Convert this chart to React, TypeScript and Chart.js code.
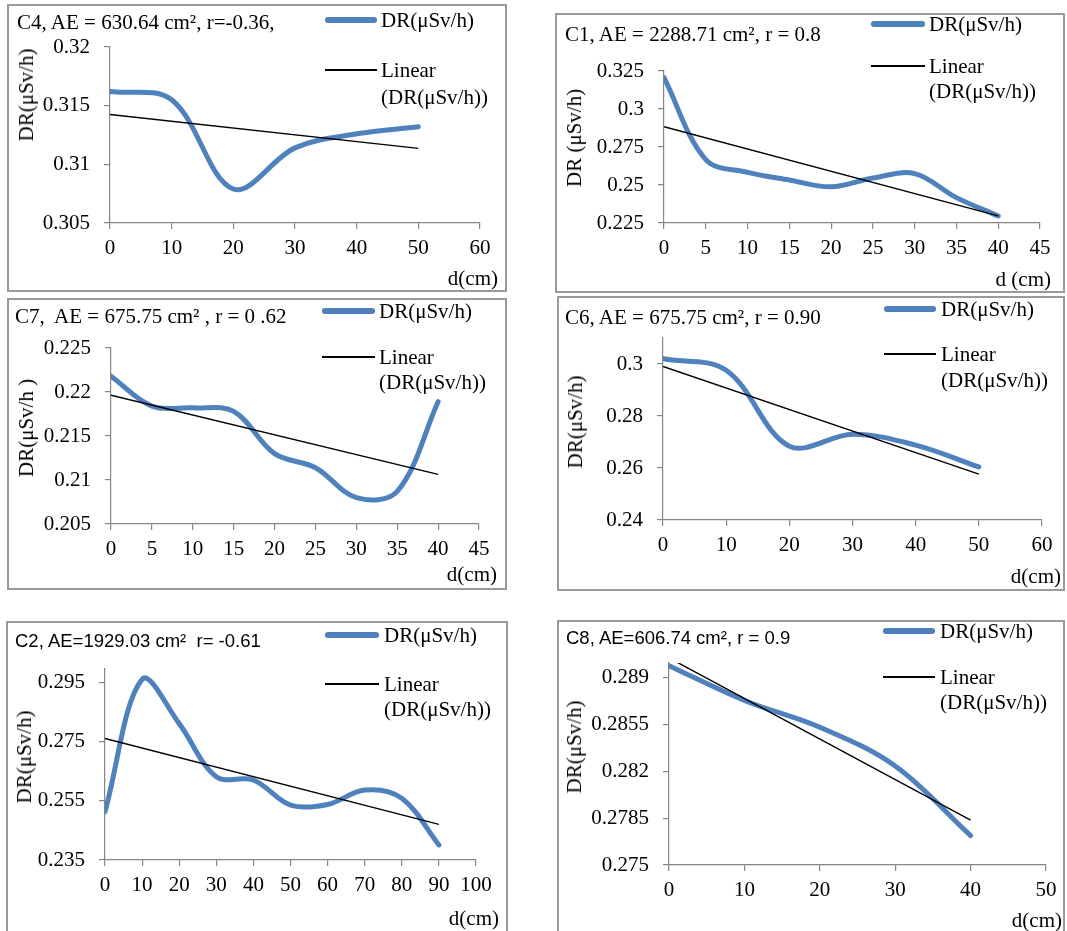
import React, { useEffect, useRef } from "react";
import { Chart, registerables } from "chart.js";

Chart.register(...registerables);

// ---------- data ----------
const c4Distance = [0, 10, 20, 30, 40, 50];
const c4Dose = [0.3162, 0.3155, 0.3079, 0.3114, 0.3126, 0.3132];
const c4XTicks = [0, 10, 20, 30, 40, 50, 60];
const c4YTicks = [0.305, 0.31, 0.315, 0.32];

const c1Distance = [0, 5, 10, 15, 20, 25, 30, 35, 40];
const c1Dose = [0.3206, 0.2667, 0.2583, 0.2533, 0.2488, 0.2546, 0.2575, 0.2417, 0.2296];
const c1XTicks = [0, 5, 10, 15, 20, 25, 30, 35, 40, 45];
const c1YTicks = [0.225, 0.25, 0.275, 0.3, 0.325];

const c7Distance = [0, 5, 10, 15, 20, 25, 30, 35, 40];
const c7Dose = [0.2218, 0.2184, 0.2182, 0.2178, 0.213, 0.2114, 0.208, 0.2087, 0.2189];
const c7XTicks = [0, 5, 10, 15, 20, 25, 30, 35, 40, 45];
const c7YTicks = [0.205, 0.21, 0.215, 0.22, 0.225];

const c6Distance = [0, 10, 20, 30, 40, 50];
const c6Dose = [0.302, 0.2976, 0.2684, 0.273, 0.2688, 0.2604];
const c6XTicks = [0, 10, 20, 30, 40, 50, 60];
const c6YTicks = [0.24, 0.26, 0.28, 0.3];

const c2Distance = [0, 10, 20, 30, 40, 50, 60, 70, 80, 90];
const c2Dose = [0.2514, 0.2962, 0.2812, 0.2632, 0.2621, 0.2536, 0.2538, 0.2587, 0.2559, 0.2401];
const c2XTicks = [0, 10, 20, 30, 40, 50, 60, 70, 80, 90, 100];
const c2YTicks = [0.235, 0.255, 0.275, 0.295];

const c8Distance = [0, 10, 20, 30, 40];
const c8Dose = [0.2899, 0.2873, 0.2853, 0.2824, 0.2772];
const c8XTicks = [0, 10, 20, 30, 40, 50];
const c8YTicks = [0.275, 0.2785, 0.282, 0.2855, 0.289];

const seriesName = "DR(μSv/h)";
const trendName1 = "Linear";
const trendName2 = "(DR(μSv/h))";

// ---------- layout ----------
const SERIF = "'Liberation Serif', 'Times New Roman', serif";
const SANS = "'Liberation Sans', Arial, sans-serif";
const BLUE = "#4F81BD";
const AXIS = "#868686";

type Rect = { l: number; t: number; r: number; b: number };
type PanelCfg = {
  title: string;
  titleSans: boolean;
  titlePos: [number, number];
  yTitle: string;
  yTitlePos: [number, number];
  xTitle: string;
  xTitlePos: [number, number]; // right edge, center y
  legend: { x1: number; x2: number; tx: number; y1: number; y2: number; y3: number };
  box: Rect;
  plot: Rect;
  xs: number[];
  ys: number[];
  xTicks: number[];
  yTicks: number[];
  xMax: number;
  yMin: number;
  yMax: number;
};

const panels: PanelCfg[] = [
  {
    title: "C4, AE = 630.64 cm², r=-0.36,",
    titleSans: false,
    titlePos: [17, 22],
    yTitle: "DR(μSv/h)",
    yTitlePos: [26, 95],
    xTitle: "d(cm)",
    xTitlePos: [498, 278],
    legend: { x1: 325, x2: 377, tx: 381, y1: 20, y2: 70, y3: 97 },
    box: { l: 7, t: 4, r: 507, b: 292 },
    plot: { l: 110, t: 47, r: 480, b: 223 },
    xs: c4Distance,
    ys: c4Dose,
    xTicks: c4XTicks,
    yTicks: c4YTicks,
    xMax: 60,
    yMin: 0.305,
    yMax: 0.32,
  },
  {
    title: "C1, AE = 2288.71 cm², r = 0.8",
    titleSans: false,
    titlePos: [565, 34],
    yTitle: "DR (μSv/h)",
    yTitlePos: [574, 138],
    xTitle: "d (cm)",
    xTitlePos: [1051, 279],
    legend: { x1: 871, x2: 925, tx: 929, y1: 24, y2: 66, y3: 91 },
    box: { l: 555, t: 13, r: 1065, b: 293 },
    plot: { l: 664, t: 71, r: 1040, b: 223 },
    xs: c1Distance,
    ys: c1Dose,
    xTicks: c1XTicks,
    yTicks: c1YTicks,
    xMax: 45,
    yMin: 0.225,
    yMax: 0.325,
  },
  {
    title: "C7,  AE = 675.75 cm² , r = 0 .62",
    titleSans: false,
    titlePos: [15, 316],
    yTitle: "DR(μSv/h )",
    yTitlePos: [26, 428],
    xTitle: "d(cm)",
    xTitlePos: [497, 574],
    legend: { x1: 322, x2: 375, tx: 379, y1: 311, y2: 357, y3: 382 },
    box: { l: 7, t: 298, r: 507, b: 590 },
    plot: { l: 111, t: 348, r: 479, b: 524 },
    xs: c7Distance,
    ys: c7Dose,
    xTicks: c7XTicks,
    yTicks: c7YTicks,
    xMax: 45,
    yMin: 0.205,
    yMax: 0.225,
  },
  {
    title: "C6, AE = 675.75 cm², r = 0.90",
    titleSans: false,
    titlePos: [565, 317],
    yTitle: "DR(μSv/h)",
    yTitlePos: [575, 422],
    xTitle: "d(cm)",
    xTitlePos: [1061, 576],
    legend: { x1: 884, x2: 936, tx: 941, y1: 309, y2: 354, y3: 380 },
    box: { l: 557, t: 296, r: 1065, b: 591 },
    plot: { l: 663, t: 338, r: 1042, b: 520 },
    xs: c6Distance,
    ys: c6Dose,
    xTicks: c6XTicks,
    yTicks: c6YTicks,
    xMax: 60,
    yMin: 0.24,
    yMax: 0.31,
  },
  {
    title: "C2, AE=1929.03 cm²  r= -0.61",
    titleSans: true,
    titlePos: [15, 641],
    yTitle: "DR(μSv/h)",
    yTitlePos: [24, 757],
    xTitle: "d(cm)",
    xTitlePos: [499, 918],
    legend: { x1: 325, x2: 379, tx: 384, y1: 635, y2: 684, y3: 709 },
    box: { l: 6, t: 621, r: 508, b: 945 },
    plot: { l: 105, t: 669, r: 476, b: 860 },
    xs: c2Distance,
    ys: c2Dose,
    xTicks: c2XTicks,
    yTicks: c2YTicks,
    xMax: 100,
    yMin: 0.235,
    yMax: 0.2997,
  },
  {
    title: "C8, AE=606.74 cm², r = 0.9",
    titleSans: true,
    titlePos: [566, 638],
    yTitle: "DR(μSv/h)",
    yTitlePos: [574, 747],
    xTitle: "d(cm)",
    xTitlePos: [1062, 920],
    legend: { x1: 883, x2: 935, tx: 940, y1: 631, y2: 677, y3: 702 },
    box: { l: 557, t: 620, r: 1065, b: 945 },
    plot: { l: 669, t: 663, r: 1046, b: 865 },
    xs: c8Distance,
    ys: c8Dose,
    xTicks: c8XTicks,
    yTicks: c8YTicks,
    xMax: 50,
    yMin: 0.275,
    yMax: 0.2901,
  },
];

function linearFit(xs: number[], ys: number[]) {
  const n = xs.length;
  const mx = xs.reduce((a, b) => a + b, 0) / n;
  const my = ys.reduce((a, b) => a + b, 0) / n;
  let sxy = 0;
  let sxx = 0;
  for (let i = 0; i < n; i++) {
    sxy += (xs[i] - mx) * (ys[i] - my);
    sxx += (xs[i] - mx) * (xs[i] - mx);
  }
  const slope = sxy / sxx;
  const intercept = my - slope * mx;
  return (x: number) => intercept + slope * x;
}

const WY = 80;
const HX = 40;

function PanelChart({ cfg }: { cfg: PanelCfg }) {
  const ref = useRef<HTMLCanvasElement>(null);
  const { box, plot } = cfg;
  const W = box.r - box.l;
  const H = box.b - box.t;

  useEffect(() => {
    if (!ref.current) return;
    const f = linearFit(cfg.xs, cfg.ys);
    const x0 = cfg.xs[0];
    const x1 = cfg.xs[cfg.xs.length - 1];
    const font = { family: SERIF, size: 21 };
    const chart = new Chart(ref.current, {
      type: "line",
      data: {
        datasets: [
          {
            label: trendName1 + " " + trendName2,
            data: [
              { x: x0, y: f(x0) },
              { x: x1, y: f(x1) },
            ],
            borderColor: "#000",
            borderWidth: 1.4,
            pointRadius: 0,
            tension: 0,
            order: 0,
          },
          {
            label: seriesName,
            data: cfg.xs.map((x, i) => ({ x, y: cfg.ys[i] })),
            borderColor: BLUE,
            borderWidth: 5,
            pointRadius: 0,
            tension: 0.35,
            borderCapStyle: "round",
            borderJoinStyle: "round",
            order: 1,
          },
        ],
      },
      options: {
        animation: false,
        responsive: false,
        devicePixelRatio: 1,
        layout: {
          padding: {
            left: plot.l - box.l - WY,
            top: plot.t - box.t,
            right: box.r - plot.r,
            bottom: box.b - plot.b - HX,
          },
        },
        plugins: {
          legend: { display: false },
          tooltip: { enabled: false },
          title: { display: false },
        },
        scales: {
          x: {
            type: "linear",
            min: 0,
            max: cfg.xMax,
            afterFit: (s: any) => {
              s.height = HX;
            },
            afterBuildTicks: (s: any) => {
              s.ticks = cfg.xTicks.map((v) => ({ value: v }));
            },
            ticks: {
              font,
              color: "#000",
              padding: 6.4,
              maxRotation: 0,
              autoSkip: false,
              callback: (v: any) => String(v),
            },
            grid: {
              drawOnChartArea: false,
              drawTicks: true,
              tickLength: 6,
              color: AXIS,
              lineWidth: 1.2,
            },
            border: { color: AXIS, width: 1.2 },
          },
          y: {
            type: "linear",
            min: cfg.yMin,
            max: cfg.yMax,
            afterFit: (s: any) => {
              s.width = WY;
            },
            afterBuildTicks: (s: any) => {
              s.ticks = cfg.yTicks.map((v) => ({ value: v }));
            },
            ticks: {
              font,
              color: "#000",
              padding: 14,
              autoSkip: false,
              callback: (v: any) => String(v),
            },
            grid: {
              drawOnChartArea: false,
              drawTicks: true,
              tickLength: 6,
              color: AXIS,
              lineWidth: 1.2,
            },
            border: { color: AXIS, width: 1.2 },
          },
        },
      },
    } as any);
    return () => chart.destroy();
  }, [cfg]);

  const lg = cfg.legend;
  const serifText = (
    key: string,
    text: string,
    left: number,
    cy: number,
    extra: React.CSSProperties = {}
  ) => (
    <div
      key={key}
      style={{
        position: "absolute",
        left,
        top: cy - 12,
        fontFamily: SERIF,
        fontSize: 21,
        lineHeight: "24px",
        whiteSpace: "pre",
        color: "#000",
        ...extra,
      }}
    >
      {text}
    </div>
  );

  return (
    <>
      <div
        style={{
          position: "absolute",
          left: box.l,
          top: box.t,
          width: W,
          height: H,
          boxSizing: "border-box",
          border: "2px solid #9a9a9a",
        }}
      />
      <canvas
        ref={ref}
        width={W}
        height={H}
        style={{ position: "absolute", left: box.l, top: box.t, width: W, height: H }}
      />
      {cfg.titleSans ? (
        <div
          style={{
            position: "absolute",
            left: cfg.titlePos[0],
            top: cfg.titlePos[1] - 11,
            fontFamily: SANS,
            fontSize: 18.5,
            lineHeight: "22px",
            whiteSpace: "pre",
            color: "#000",
          }}
        >
          {cfg.title}
        </div>
      ) : (
        serifText("title", cfg.title, cfg.titlePos[0], cfg.titlePos[1])
      )}
      {/* legend */}
      <div
        style={{
          position: "absolute",
          left: lg.x1,
          top: lg.y1 - 2.75,
          width: lg.x2 - lg.x1,
          height: 5.5,
          borderRadius: 2.75,
          background: BLUE,
        }}
      />
      {serifText("l1", seriesName, lg.tx, lg.y1)}
      <div
        style={{
          position: "absolute",
          left: lg.x1,
          top: lg.y2 - 0.75,
          width: lg.x2 - lg.x1,
          height: 1.5,
          background: "#000",
        }}
      />
      {serifText("l2", trendName1, lg.tx, lg.y2)}
      {serifText("l3", trendName2, lg.tx, lg.y3)}
      {/* axis titles */}
      <div
        style={{
          position: "absolute",
          left: cfg.yTitlePos[0],
          top: cfg.yTitlePos[1],
          transform: "translate(-50%, -50%) rotate(-90deg)",
          fontFamily: SERIF,
          fontSize: 21,
          lineHeight: "24px",
          whiteSpace: "pre",
          color: "#000",
        }}
      >
        {cfg.yTitle}
      </div>
      <div
        style={{
          position: "absolute",
          left: cfg.xTitlePos[0],
          top: cfg.xTitlePos[1] - 12,
          transform: "translateX(-100%)",
          fontFamily: SERIF,
          fontSize: 21,
          lineHeight: "24px",
          whiteSpace: "pre",
          color: "#000",
        }}
      >
        {cfg.xTitle}
      </div>
    </>
  );
}

export default function App() {
  return (
    <div
      style={{
        position: "absolute",
        left: 0,
        top: 0,
        width: 1067,
        height: 931,
        overflow: "hidden",
        background: "#fff",
      }}
    >
      {panels.map((p, i) => (
        <PanelChart key={i} cfg={p} />
      ))}
    </div>
  );
}
